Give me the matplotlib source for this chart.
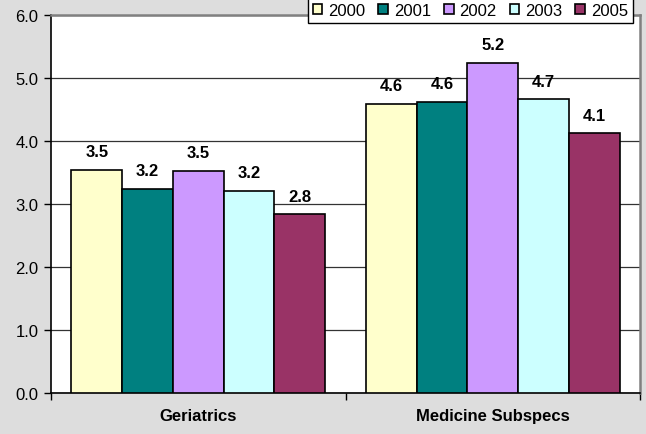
import matplotlib
matplotlib.use("Agg")
import matplotlib.pyplot as plt
import numpy as np

plt.rcParams['font.family'] = ['Liberation Sans', 'DejaVu Sans']

categories = ["Geriatrics", "Medicine Subspecs"]
years = ["2000", "2001", "2002", "2003", "2005"]
values = {
    "2000": [3.54, 4.59],
    "2001": [3.24, 4.62],
    "2002": [3.53, 5.24],
    "2003": [3.21, 4.66],
    "2005": [2.84, 4.12],
}
colors = ["#FFFFCC", "#008080", "#CC99FF", "#CCFFFF", "#993366"]
y_ticks = [0.0, 1.0, 2.0, 3.0, 4.0, 5.0, 6.0]

bg = "#DDDDDD"
fs = 12
fig = plt.figure(figsize=(6.46, 4.35), dpi=100, facecolor=bg)
ax = fig.add_axes([51 / 646, 41 / 435, 589 / 646, 378 / 435])
ax.set_facecolor("white")

x = np.arange(len(categories))
n = len(years)
width = 1.0 / (n + 0.8)
offsets = (np.arange(n) - (n - 1) / 2) * width

for i, (yr, col) in enumerate(zip(years, colors)):
    bars = ax.bar(x + offsets[i], values[yr], width, color=col,
                  edgecolor="black", linewidth=1.2, label=yr, zorder=3)
    for b, v in zip(bars, values[yr]):
        ax.annotate(f"{v:.1f}", (b.get_x() + b.get_width() / 2, v),
                    xytext=(0, 13), textcoords="offset points",
                    ha="center", va="center", fontsize=fs,
                    fontweight="bold", color="black")

ax.set_xlim(-0.5, len(categories) - 0.5)
ax.set_ylim(0, 6)
ax.set_yticks(y_ticks)
ax.set_yticklabels([f"{t:.1f}" for t in y_ticks], fontsize=fs)
ax.yaxis.grid(True, color="#333333", linewidth=0.9, zorder=0)
ax.set_axisbelow(True)

# category boundaries as ticks, names as minor labels
ax.set_xticks([-0.5, 0.5, 1.5])
ax.set_xticklabels([])
ax.set_xticks(x, minor=True)
ax.set_xticklabels(categories, minor=True, fontsize=fs, fontweight="bold")
ax.tick_params(axis="x", which="minor", length=0, pad=11)
ax.tick_params(axis="x", which="major", length=5, width=1, direction="out")
ax.tick_params(axis="y", length=5, width=1, direction="out", pad=4)

for s in ["left", "bottom"]:
    ax.spines[s].set_color("black")
    ax.spines[s].set_linewidth(1.2)
for s in ["top", "right"]:
    ax.spines[s].set_color("#808080")
    ax.spines[s].set_linewidth(1.8)

leg = fig.legend(loc="upper right", bbox_to_anchor=(633 / 646, 1.0 + 1 / 435),
                 ncol=5, fontsize=fs, frameon=True, fancybox=False,
                 handlelength=0.57, handleheight=0.57, handletextpad=0.36,
                 columnspacing=0.78, borderpad=0.3, borderaxespad=0)
leg.get_frame().set_edgecolor("black")
leg.get_frame().set_linewidth(1.0)
leg.get_frame().set_facecolor("white")
leg.get_frame().set_alpha(1)
leg.set_zorder(10)

fig.savefig("out.png", dpi=100, facecolor=bg)
